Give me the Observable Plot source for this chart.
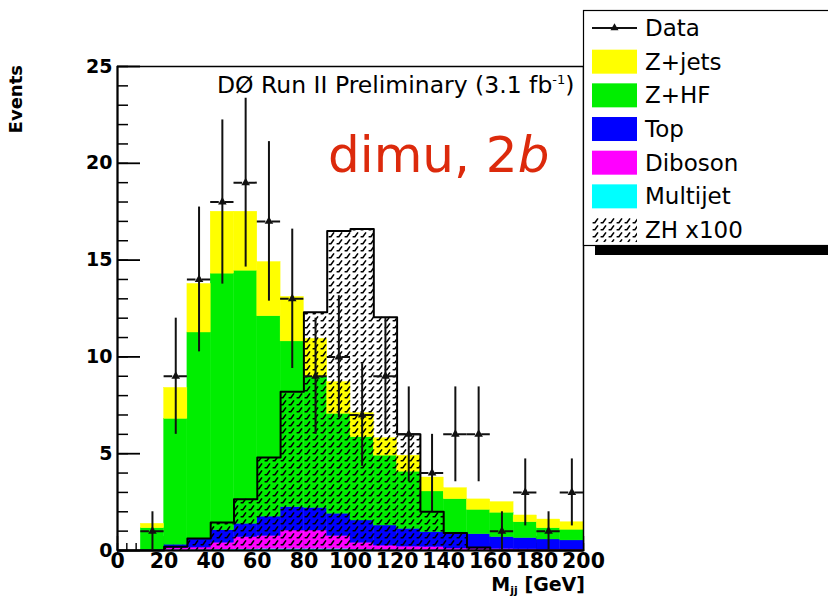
<!DOCTYPE html>
<html>
<head>
<meta charset="utf-8">
<script src="https://cdn.jsdelivr.net/npm/d3@7"></script>
<script src="https://cdn.jsdelivr.net/npm/@observablehq/plot@0.6"></script>
<style>
  html, body { margin: 0; padding: 0; background: #fff; overflow: hidden; }
  #chart { position: relative; width: 828px; height: 600px; }
</style>
</head>
<body>
<div id="chart"></div>
<script>
// Dijet invariant mass bins (GeV), 10 GeV wide
const binLow = [0, 10, 20, 30, 40, 50, 60, 70, 80, 90, 100, 110, 120, 130, 140, 150, 160, 170, 180, 190];
const binWidth = 10;

// Background expectations per bin (events), stacked bottom to top
const multijet = [0, 0, 0.03, 0.04, 0.05, 0.06, 0.08, 0.08, 0.08, 0.08, 0.05, 0.04, 0.03, 0.03, 0.02, 0.02, 0.02, 0.01, 0.01, 0.01];
const diboson  = [0, 0.01, 0.09, 0.11, 0.35, 0.63, 0.67, 0.95, 0.95, 0.67, 0.35, 0.21, 0.17, 0.15, 0.08, 0.08, 0.06, 0.05, 0.04, 0.04];
const topPairs = [0, 0.02, 0.18, 0.45, 0.65, 0.69, 1.0, 1.21, 1.17, 1.15, 1.15, 1.04, 0.92, 0.77, 0.76, 0.74, 0.61, 0.58, 0.52, 0.47];
const zHF      = [0, 1.12, 6.5, 10.66, 13.25, 13.07, 10.35, 8.56, 6.75, 5.16, 4.3, 3.61, 2.95, 2.1, 1.79, 1.26, 1.26, 0.82, 0.58, 0.55];
const zJets    = [0, 0.23, 1.6, 2.51, 3.2, 3.05, 2.8, 2.3, 1.98, 1.64, 1.25, 0.9, 0.83, 0.72, 0.57, 0.54, 0.55, 0.35, 0.45, 0.39];

// ZH signal scaled by 100
const zh100 = [0, 0, 0.2, 0.62, 1.45, 2.65, 4.8, 8.2, 12.3, 16.5, 16.6, 12.05, 6.0, 2.0, 0.9, 0.15, 0, 0, 0, 0];

// Observed events and their error bars
const dataCounts = [0, 1, 9, 14, 18, 19, 17, 13, 9, 10, 7, 9, 6, 4, 6, 6, 1, 3, 1, 3];
const dataErrors = [0, 1.0, 3.0, 3.74, 4.24, 4.36, 4.12, 3.6, 3.0, 3.16, 2.65, 3.0, 2.45, 2.0, 2.45, 2.45, 1.0, 1.73, 1.0, 1.73];

// Axis ticks
const yTicks = [0, 5, 10, 15, 20, 25];
const yMinorTicks = d3.range(0, 26, 1);
const xTicks = [0, 20, 40, 60, 80, 100, 120, 140, 160, 180, 200];
const xMinorTicks = d3.range(0, 201, 4);

// Series names and colours, in stacking order (bottom first)
const seriesNames = ["Multijet", "Diboson", "Top", "Z+HF", "Z+jets"];
const seriesColors = ["#00ffff", "#ff00ff", "#0000ff", "#00ee00", "#ffff00"];
const seriesValues = [multijet, diboson, topPairs, zHF, zJets];

// Legend entries, top to bottom
const legendLabels = ["Data", "Z+jets", "Z+HF", "Top", "Diboson", "Multijet", "ZH x100"];
const legendFills = [null, "#ffff00", "#00ee00", "#0000ff", "#ff00ff", "#00ffff", "url(#zhHatch)"];

// Tidy tables for the marks
const stackRows = [];
seriesNames.forEach((name, s) => {
  seriesValues[s].forEach((v, i) => {
    stackRows.push({series: name, x1: binLow[i], x2: binLow[i] + binWidth, value: v});
  });
});
const zhRows = binLow.map((x, i) => ({x1: x, x2: x + binWidth, value: zh100[i]}));
const zhOutline = binLow.map((x, i) => ({x, y: zh100[i]})).concat([{x: binLow[binLow.length - 1] + binWidth, y: 0}]);
const dataRows = binLow
  .map((x, i) => ({x: x + binWidth / 2, x1: x, x2: x + binWidth, n: dataCounts[i], e: dataErrors[i]}))
  .filter(d => d.n > 0);

const font = "DejaVu Sans";

const svg = Plot.plot({
  width: 828,
  height: 600,
  marginLeft: 117,
  marginRight: 245,
  marginTop: 66,
  marginBottom: 50,
  style: {fontFamily: font, background: "#fff", overflow: "visible"},
  x: {domain: [0, 200]},
  y: {domain: [0, 25]},
  color: {domain: seriesNames, range: seriesColors},
  marks: [
    // x-axis ticks point inward and sit beneath the histograms
    Plot.axisX(xMinorTicks, {tickSize: 7, dy: -7, tickFormat: () => "", label: null, stroke: "#000", strokeWidth: 1.4}),
    Plot.axisX(xTicks, {tickSize: 14, dy: -14, tickFormat: () => "", label: null, stroke: "#000", strokeWidth: 1.4}),
    // stacked backgrounds
    Plot.rectY(stackRows, Plot.stackY({
      x1: "x1", x2: "x2", y: "value",
      fill: "series", stroke: "series", strokeWidth: 0.4,
      order: seriesNames
    })),
    // ZH x100, hatched, with outline
    Plot.rectY(zhRows, {x1: "x1", x2: "x2", y: "value", fill: "url(#zhHatch)"}),
    Plot.line(zhOutline, {x: "x", y: "y", curve: "step-after", stroke: "#000", strokeWidth: 2}),
    // frame and axis lines
    Plot.frame({stroke: "#000", strokeWidth: 1.5}),
    Plot.ruleX([0], {stroke: "#000", strokeWidth: 2}),
    Plot.ruleY([0], {stroke: "#000", strokeWidth: 2}),
    // y-axis ticks point inward
    Plot.axisY(yMinorTicks, {tickSize: 11, dx: 11, tickFormat: () => "", label: null, stroke: "#000", strokeWidth: 1.5}),
    Plot.axisY(yTicks, {tickSize: 23, dx: 23, tickFormat: () => "", label: null, stroke: "#000", strokeWidth: 1.8}),
    // tick labels
    Plot.axisY(yTicks, {tickSize: 0, tickPadding: 5, fontSize: 19, fontWeight: "bold", label: null, fill: "#000"}),
    Plot.axisX(xTicks, {tickSize: 0, tickPadding: 3, fontSize: 20.5, fontWeight: "bold", label: null, fill: "#000"}),
    // observed data
    Plot.ruleX(dataRows, {x: "x", y1: d => d.n - d.e, y2: d => d.n + d.e, stroke: "#111", strokeWidth: 2}),
    Plot.ruleY(dataRows, {y: "n", x1: "x1", x2: "x2", stroke: "#111", strokeWidth: 2, strokeDasharray: "8.6,6.1"}),
    Plot.dot(dataRows, {x: "x", y: "n", symbol: "triangle", r: 3.2, fill: "#111", stroke: "none"})
  ]
});

const root = d3.select(svg);

// hatch pattern for the ZH histogram
const pattern = root.insert("defs", ":first-child")
  .append("pattern")
  .attr("id", "zhHatch")
  .attr("patternUnits", "userSpaceOnUse")
  .attr("width", 8)
  .attr("height", 7);
pattern.append("path")
  .attr("d", "M0.6,5.7 L2.9,5.7 L6,1.4")
  .attr("fill", "none")
  .attr("stroke", "#000")
  .attr("stroke-width", 1.6);

const notes = root.append("g")
  .attr("font-family", font)
  .attr("fill", "#000")
  .attr("text-anchor", "start");

// axis titles
notes.append("text")
  .attr("transform", "translate(22,65) rotate(-90)")
  .attr("text-anchor", "end")
  .attr("font-size", 18)
  .attr("font-weight", "bold")
  .text("Events");

const xTitle = notes.append("text")
  .attr("x", 585).attr("y", 591)
  .attr("text-anchor", "end")
  .attr("font-size", 19)
  .attr("font-weight", "bold");
xTitle.append("tspan").text("M");
xTitle.append("tspan").attr("font-size", 11).attr("dy", 3).text("jj");
xTitle.append("tspan").attr("dy", -3).text(" [GeV]");

// run label
const runLabel = notes.append("text")
  .attr("x", 217).attr("y", 93)
  .attr("font-size", 23.5);
runLabel.append("tspan").text("DØ Run II Preliminary (3.1 fb");
runLabel.append("tspan").attr("font-size", 13).attr("dy", -9).text("-1");
runLabel.append("tspan").attr("dy", 9).text(")");

// channel label
const channel = notes.append("text")
  .attr("x", 328).attr("y", 172)
  .attr("font-size", 50)
  .attr("fill", "#dc2a0c");
channel.append("tspan").text("dimu, 2");
channel.append("tspan").attr("font-style", "italic").text("b");

// legend box with drop shadow
const legend = root.append("g")
  .attr("font-family", font)
  .attr("text-anchor", "start");
legend.append("rect")
  .attr("x", 595).attr("y", 20).attr("width", 260).attr("height", 235)
  .attr("fill", "#000");
legend.append("rect")
  .attr("x", 583.5).attr("y", 10.5).attr("width", 260).attr("height", 235)
  .attr("fill", "#fff").attr("stroke", "#000").attr("stroke-width", 1.2);

legendLabels.forEach((label, i) => {
  const cy = 28 + 33.67 * i;
  if (legendFills[i] === null) {
    legend.append("line")
      .attr("x1", 592).attr("x2", 637).attr("y1", cy).attr("y2", cy)
      .attr("stroke", "#111").attr("stroke-width", 2);
    legend.append("path")
      .attr("d", d3.symbol(d3.symbolTriangle, 28)())
      .attr("transform", `translate(614.5,${cy})`)
      .attr("fill", "#111");
  } else {
    legend.append("rect")
      .attr("x", 592).attr("y", cy - 12).attr("width", 45).attr("height", 24)
      .attr("fill", legendFills[i]);
  }
  legend.append("text")
    .attr("x", 645).attr("y", cy + 8)
    .attr("font-size", 23)
    .attr("fill", "#000")
    .text(label);
});

document.getElementById("chart").appendChild(svg);
</script>
</body>
</html>
